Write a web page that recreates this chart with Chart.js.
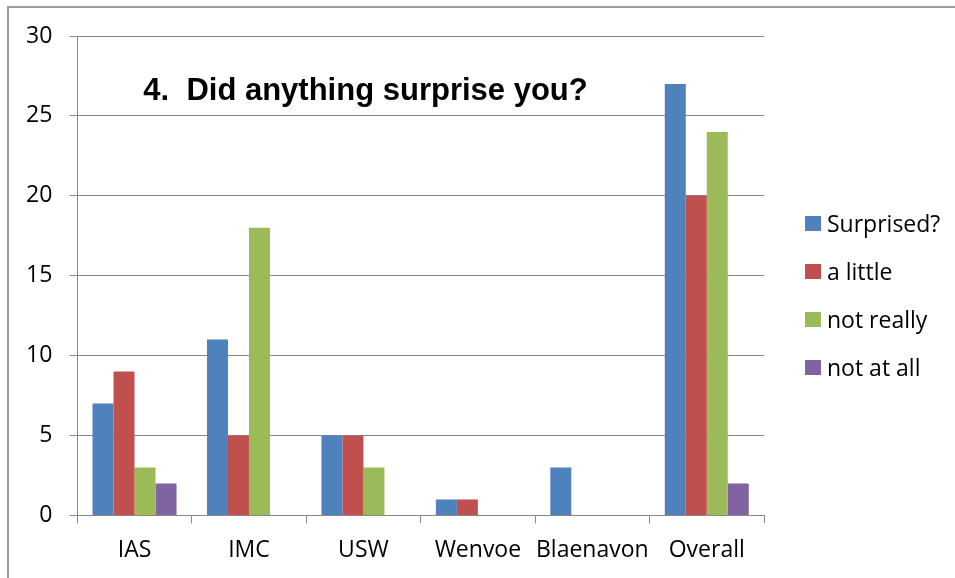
<!DOCTYPE html>
<html lang="en">
<head>
    <meta charset="UTF-8">
    <title>4. Did anything surprise you?</title>
    <script src="https://cdn.jsdelivr.net/npm/chart.js"></script>
    <style>
        body {
            margin: 0;
            padding: 0;
            background: #fff;
            width: 955px;
            height: 578px;
            overflow: hidden;
            position: relative;
        }
        .frame {
            position: absolute;
            left: 7px;
            top: 6px;
            width: 1000px;
            height: 1000px;
            border-left: 2px solid #9a9a9a;
            border-top: 2px solid #9a9a9a;
        }
        .wrap {
            position: absolute;
            left: 0;
            top: 0;
            width: 955px;
            height: 578px;
        }
        .legend {
            position: absolute;
            left: 805px;
            top: 199px;
        }
        .legend div {
            display: flex;
            align-items: center;
            height: 48px;
            font-family: "Open Sans", sans-serif;
            font-size: 23px;
            color: #000;
        }
        .legend span {
            display: inline-block;
            width: 16px;
            height: 15px;
            margin-right: 6px;
        }
    </style>
</head>
<body>
    <div class="frame"></div>
    <div class="wrap">
        <canvas id="surpriseChart" width="955" height="578"></canvas>
    </div>
    <div class="legend" id="legend"></div>

    <script>
        const sites = ['IAS', 'IMC', 'USW', 'Wenvoe', 'Blaenavon', 'Overall'];
        const surprised = [7, 11, 5, 1, 3, 27];
        const aLittle = [9, 5, 5, 1, 0, 20];
        const notReally = [3, 18, 3, 0, 0, 24];
        const notAtAll = [2, 0, 0, 0, 0, 2];
        const yTicks = [0, 5, 10, 15, 20, 25, 30];

        const seriesNames = ['Surprised?', 'a little', 'not really', 'not at all'];
        const seriesColors = ['#4F81BD', '#C0504D', '#9BBB59', '#8064A2'];
        const seriesData = [surprised, aLittle, notReally, notAtAll];

        const gridGrey = '#898989';
        const labelFont = { family: 'Open Sans', size: 23 };

        // heading sits inside the plot, above the small bars
        const headingPlugin = {
            id: 'heading',
            afterDraw(chart) {
                const c = chart.ctx;
                const area = chart.chartArea;
                c.save();
                c.fillStyle = '#000';
                c.font = "bold 31px 'Liberation Sans', Arial, sans-serif";
                c.textBaseline = 'alphabetic';
                c.fillText('4.  Did anything surprise you?', area.left + 66, 100);
                c.restore();
            }
        };

        const ctx = document.getElementById('surpriseChart').getContext('2d');
        const chart = new Chart(ctx, {
            type: 'bar',
            data: {
                labels: sites,
                datasets: seriesNames.map((name, i) => ({
                    label: name,
                    data: seriesData[i],
                    backgroundColor: seriesColors[i],
                    borderWidth: 0,
                    categoryPercentage: 0.734,
                    barPercentage: 1
                }))
            },
            options: {
                responsive: false,
                animation: false,
                layout: {
                    padding: { left: 9, right: 191, top: 36, bottom: 1 }
                },
                plugins: {
                    legend: { display: false },
                    tooltip: { enabled: false }
                },
                scales: {
                    x: {
                        grid: {
                            drawOnChartArea: false,
                            drawTicks: true,
                            tickLength: 8,
                            color: gridGrey
                        },
                        border: { color: gridGrey, width: 1 },
                        ticks: {
                            color: '#000',
                            font: labelFont,
                            padding: 13,
                            maxRotation: 0,
                            minRotation: 0,
                            autoSkip: false
                        }
                    },
                    y: {
                        min: 0,
                        max: 30,
                        afterBuildTicks(scale) {
                            scale.ticks = yTicks.map(v => ({ value: v }));
                        },
                        grid: {
                            color: gridGrey,
                            tickLength: 8
                        },
                        border: { color: gridGrey, width: 1 },
                        ticks: { color: '#000', font: labelFont, padding: 17 }
                    }
                }
            },
            plugins: [headingPlugin]
        });

        // legend entries built from the same series lists
        const legend = document.getElementById('legend');
        seriesNames.forEach((name, i) => {
            const row = document.createElement('div');
            const box = document.createElement('span');
            box.style.background = seriesColors[i];
            row.appendChild(box);
            row.appendChild(document.createTextNode(name));
            legend.appendChild(row);
        });
    </script>
</body>
</html>
